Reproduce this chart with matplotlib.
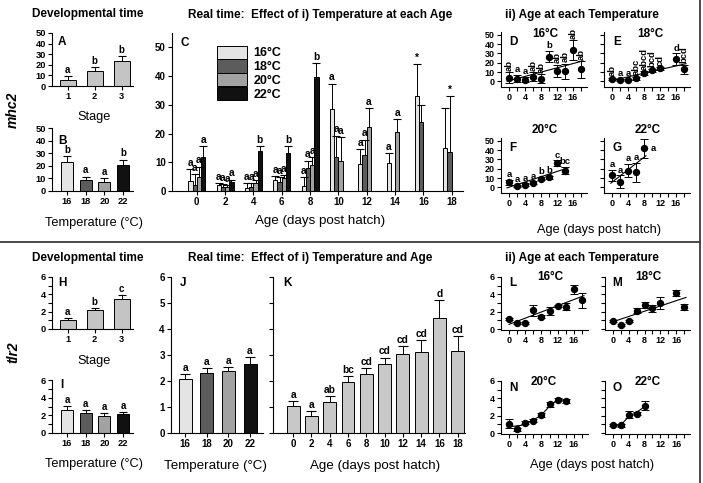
import numpy as np
import matplotlib
matplotlib.use('Agg')
import matplotlib.pyplot as plt
from matplotlib.lines import Line2D
from matplotlib.patches import Patch

plt.rcParams['font.family'] = ['Liberation Sans', 'DejaVu Sans']
plt.rcParams['font.weight'] = 'bold'

nan = np.nan
# ---------------- data ----------------
stage_x = [1, 2, 3]
temp_labels = ['16', '18', '20', '22']
temp_names = ['16°C', '18°C', '20°C', '22°C']
ages = [0, 2, 4, 6, 8, 10, 12, 14, 16, 18]

# mhc2
A_mean = [6, 14.5, 23.5]
A_err = [3, 3, 4.5]
A_let = ['a', 'b', 'b']
B_mean = [23, 8.5, 7.5, 21]
B_err = [4.5, 3, 3, 4]
B_let = ['b', 'a', 'a', 'b']

C16 = [3.6, 2.1, 1.2, 4.0, 1.9, 28.4, 9.3, 9.7, 33.0, 15.0]
C16_err = [3.9, 0.8, 1.5, 1.3, 3.0, 9.0, 5.3, 3.6, 11.3, 13.8]
C16_let = ['a', 'a', 'a', 'a', 'a', 'a', 'a', 'a', '*', '']
C18 = [2.0, 1.5, 1.4, 3.1, 7.9, 11.9, 12.6, nan, 24.1, 13.7]
C18_err = [3.8, 0.9, 1.5, 1.6, 2.7, 7.4, 5.3, nan, 5.8, 19.5]
C18_let = ['a', 'a', 'a', 'a', 'a', 'a', 'a', '', '', '*']
C20 = [4.7, 1.4, 2.9, 4.5, 9.2, 10.4, 22.3, 20.6, nan, nan]
C20_err = [3.8, 0.8, 1.0, 1.0, 2.6, 8.5, 6.7, 4.5, nan, nan]
C20_let = ['a', 'a', 'a', 'a', 'a', 'a', 'a', 'a', '', '']
C22 = [12.0, 3.2, 13.9, 13.4, 39.7, nan, nan, nan, nan, nan]
C22_err = [3.5, 0.8, 1.6, 2.3, 4.8, nan, nan, nan, nan, nan]
C22_let = ['a', 'a', 'b', 'b', 'b', '', '', '', '', '']

D_x = [0, 2, 4, 6, 8, 10, 12, 14, 16, 18]
D_y = [4, 3, 2, 5, 3, 26.5, 11.5, 11, 33.5, 13]
D_err = [6, 4, 3, 5, 5, 6, 6.5, 8, 11, 9]
D_let = ['ab', 'a', 'a', 'ab', 'ab', 'b', 'ab', 'ab', 'ab', 'ab']
D_line_x = [-0.5, 18.5]
D_line_y = [0.2, 22]

E_x = [0, 2, 4, 6, 8, 10, 12, 16, 18]
E_y = [2.5, 1.5, 2, 3.5, 9, 12, 14, 24, 13]
E_err = [1.5, 1, 1, 1.5, 2, 1.5, 1.5, 6, 5]
E_let = ['ab', 'a', 'a', 'abc', 'abcd', 'bcd', 'cd', 'd', 'bcd']
E_line_x = [-0.5, 18.5]
E_line_y = [0.5, 19]

F_x = [0, 2, 4, 6, 8, 10, 12, 14]
F_y = [5.5, 1.5, 3, 5, 9.5, 11, 26, 18]
F_err = [2.5, 1.5, 1.5, 1.5, 1.5, 1.5, 3, 4]
F_let = ['a', 'a', 'a', 'a', 'b', 'b', 'c', 'bc']
F_line_x = [-0.5, 14.8]
F_line_y = [-0.5, 21]

G_x = [0, 2, 4, 6, 8]
G_y = [13, 6, 18, 16, 42]
G_err = [6, 7, 7, 10, 10]
G_let = ['a', 'a', 'a', 'a', 'a']
G_line_x = [-0.3, 8.5]
G_line_y = [4.5, 34]

# tlr2
H_mean = [1.05, 2.15, 3.5]
H_err = [0.2, 0.25, 0.4]
H_let = ['a', 'b', 'c']
I_mean = [2.65, 2.25, 1.95, 2.1]
I_err = [0.45, 0.3, 0.3, 0.3]
I_let = ['a', 'a', 'a', 'a']
J_mean = [2.07, 2.32, 2.37, 2.65]
J_err = [0.2, 0.18, 0.18, 0.27]
J_let = ['a', 'a', 'a', 'a']
K_mean = [1.03, 0.64, 1.18, 1.96, 2.28, 2.64, 3.04, 3.12, 4.41, 3.15]
K_err = [0.2, 0.21, 0.23, 0.22, 0.23, 0.26, 0.29, 0.44, 0.72, 0.59]
K_let = ['a', 'a', 'ab', 'bc', 'cd', 'cd', 'cd', 'cd', 'd', 'cd']

L_x = [0, 2, 4, 6, 8, 10, 12, 14, 16, 18]
L_y = [1.15, 0.7, 0.7, 2.15, 1.45, 2.1, 2.65, 2.6, 4.6, 3.3]
L_err = [0.15, 0.1, 0.15, 0.6, 0.2, 0.5, 0.15, 0.4, 0.5, 0.9]
L_line_x = [0, 18.5]
L_line_y = [0.55, 3.85]

M_x = [0, 2, 4, 6, 8, 10, 12, 16, 18]
M_y = [0.95, 0.5, 0.95, 2.1, 2.75, 2.4, 3.05, 4.15, 2.55]
M_err = [0.15, 0.1, 0.15, 0.3, 0.35, 0.4, 0.7, 0.35, 0.4]
M_line_x = [0, 18.5]
M_line_y = [0.85, 3.65]

N_x = [0, 2, 4, 6, 8, 10, 12, 14]
N_y = [1.1, 0.45, 1.2, 1.45, 2.05, 3.3, 3.85, 3.7]
N_err = [0.5, 0.15, 0.2, 0.2, 0.25, 0.3, 0.2, 0.2]
N_line_x = [-0.5, 3, 6, 8, 10, 12, 14.5]
N_line_y = [0.7, 0.9, 1.5, 2.1, 3.1, 3.8, 3.8]

O_x = [0, 2, 4, 6, 8]
O_y = [0.9, 0.9, 2.1, 2.25, 3.15]
O_err = [0.1, 0.15, 0.4, 0.2, 0.5]
O_line_x = [-0.5, 2, 4, 6, 8.5]
O_line_y = [0.85, 0.95, 1.9, 2.4, 3.2]

temp_colors = ['#e4e4e4', '#5c5c5c', '#a2a2a2', '#111111']
stage_color = '#c4c4c4'
age_color = '#c8c8c8'

# ---------------- figure ----------------
W, H = 703, 483
fig = plt.figure(figsize=(W / 100, H / 100), dpi=100)
fig.patch.set_facecolor('white')


def rect(x0, y0, x1, y1):
    return [x0 / W, 1 - y1 / H, (x1 - x0) / W, (y1 - y0) / H]


def ftext(x, y, s, **kw):
    kw.setdefault('ha', 'center')
    kw.setdefault('va', 'center')
    fig.text(x / W, 1 - y / H, s, **kw)


def style(ax, ls=6.7):
    for s in ['top', 'right']:
        ax.spines[s].set_visible(False)
    for s in ['left', 'bottom']:
        ax.spines[s].set_linewidth(0.8)
    ax.tick_params(which='both', direction='out', length=3, width=0.8,
                   labelsize=ls, pad=1.5)
    ax.set_facecolor('none')


def bars(ax, x, vals, errs, colors, letters, width, capw, fs=7):
    x = np.asarray(x, float)
    vals = np.asarray(vals, float)
    errs = np.asarray(errs, float)
    m = ~np.isnan(vals)
    cols = np.array(colors, dtype=object)[m] if not isinstance(colors, str) else colors
    ax.bar(x[m], vals[m], width, color=cols, edgecolor='black', linewidth=0.7, zorder=2)
    ax.errorbar(x[m], vals[m], yerr=[np.zeros(m.sum()), errs[m]], fmt='none',
                ecolor='black', elinewidth=0.7, capsize=0, zorder=3)
    ax.plot(x[m], (vals + errs)[m], ls='none', marker='_', ms=capw,
            mec='black', mew=0.8, zorder=3)
    for xi, top, l in zip(x[m], (vals + errs)[m], np.array(letters)[m]):
        if l:
            ax.annotate(l, (xi, top), xytext=(0, 0.8), textcoords='offset points',
                        ha='center', va='bottom', fontsize=fs, fontweight='bold')


def scat(ax, x, y, err, lx, ly, letters=None, rotate=False, right_last=False, fs=6.8):
    ax.plot(lx, ly, color='black', lw=0.8, zorder=2)
    ax.errorbar(x, y, yerr=err, fmt='o', color='black', ms=4.3, elinewidth=0.7,
                capsize=2.8, capthick=0.7, zorder=3)
    if letters is None:
        return
    n = len(x)
    for i, (xi, yi, ei, l) in enumerate(zip(x, y, err, letters)):
        if right_last and i == n - 1:
            ax.annotate(l, (xi, yi), xytext=(5, 0), textcoords='offset points',
                        ha='left', va='center', fontsize=fs, fontweight='bold')
        elif rotate and len(l) > 1:
            ax.annotate(l, (xi, yi + ei), xytext=(0, 1), textcoords='offset points',
                        ha='center', va='bottom', rotation=90, fontsize=fs,
                        fontweight='bold')
        else:
            ax.annotate(l, (xi, yi + ei), xytext=(0, 0.5), textcoords='offset points',
                        ha='center', va='bottom', fontsize=fs, fontweight='bold')


# ---- Panel A ----
axA = fig.add_axes(rect(52, 33, 133, 86))
style(axA)
bars(axA, stage_x, A_mean, A_err, stage_color, A_let, 0.6, 6)
axA.set_xlim(0.42, 3.42); axA.set_ylim(0, 50)
axA.set_xticks(stage_x); axA.set_yticks(range(0, 51, 10))

# ---- Panel B ----
axB = fig.add_axes(rect(52, 128, 133, 191))
style(axB)
bars(axB, range(4), B_mean, B_err, temp_colors, B_let, 0.65, 6)
axB.set_xlim(-0.8, 3.53); axB.set_ylim(0, 50)
axB.set_xticks(range(4)); axB.set_xticklabels(temp_labels)
axB.set_yticks(range(0, 51, 10))

# ---- Panel C ----
axC = fig.add_axes(rect(172, 33, 463, 191))
style(axC, 7)
bw = 0.3
series = [(C16, C16_err, C16_let), (C18, C18_err, C18_let),
          (C20, C20_err, C20_let), (C22, C22_err, C22_let)]
for i, (v, e, l) in enumerate(series):
    xs = np.array(ages, float) + (i - 1.5) * bw
    bars(axC, xs, v, e, temp_colors[i], l, bw, 5.5, fs=7.3)
axC.set_xlim(-1.75, 18.8); axC.set_ylim(0, 55)
axC.set_xticks(ages); axC.set_yticks(range(0, 51, 10))
handles = [Patch(facecolor=c, edgecolor='black', linewidth=0.7) for c in temp_colors]
axC.legend(handles, temp_names, loc='upper left', bbox_to_anchor=(0.155, 0.92),
           frameon=False, prop={'size': 9, 'weight': 'bold'}, handlelength=2.4,
           handleheight=1.25, labelspacing=0.0, handletextpad=0.5, borderpad=0,
           borderaxespad=0)


# ---- Panels D-G ----
def small_mhc(r, labels):
    ax = fig.add_axes(rect(*r))
    style(ax, 6.5)
    ax.set_xlim(-2, 19.5); ax.set_ylim(-6, 53)
    ax.set_xticks([0, 4, 8, 12, 16]); ax.set_xticks([2, 6, 10, 14, 18], minor=True)
    ax.set_yticks(range(0, 51, 10))
    ax.tick_params(axis='y', labelleft=labels)
    return ax


axD = small_mhc((501, 32, 587, 87), True)
scat(axD, D_x, D_y, D_err, D_line_x, D_line_y, D_let, rotate=True)
axE = small_mhc((604, 32, 690, 87), False)
scat(axE, E_x, E_y, E_err, E_line_x, E_line_y, E_let, rotate=True)
axF = small_mhc((501, 138, 587, 193), True)
scat(axF, F_x, F_y, F_err, F_line_x, F_line_y, F_let, rotate=False)
axG = small_mhc((604, 138, 690, 193), False)
scat(axG, G_x, G_y, G_err, G_line_x, G_line_y, G_let, right_last=True)

# ---- Panel H ----
axH = fig.add_axes(rect(52, 277, 133, 329))
style(axH)
bars(axH, stage_x, H_mean, H_err, stage_color, H_let, 0.6, 6)
axH.set_xlim(0.42, 3.42); axH.set_ylim(0, 6)
axH.set_xticks(stage_x); axH.set_yticks([0, 2, 4, 6]); axH.set_yticks([1, 3, 5], minor=True)

# ---- Panel I ----
axI = fig.add_axes(rect(52, 380, 133, 433))
style(axI)
bars(axI, range(4), I_mean, I_err, temp_colors, I_let, 0.65, 6)
axI.set_xlim(-0.8, 3.53); axI.set_ylim(0, 6)
axI.set_xticks(range(4)); axI.set_xticklabels(temp_labels)
axI.set_yticks([0, 2, 4, 6]); axI.set_yticks([1, 3, 5], minor=True)

# ---- Panel J ----
axJ = fig.add_axes(rect(171, 277, 263, 433))
style(axJ, 7)
bars(axJ, range(4), J_mean, J_err, temp_colors, J_let, 0.6, 7, fs=7.3)
axJ.set_xlim(-0.65, 3.6); axJ.set_ylim(0, 6)
axJ.set_xticks(range(4)); axJ.set_xticklabels(temp_labels)
axJ.set_yticks(range(0, 7))

# ---- Panel K ----
axK = fig.add_axes(rect(273, 277, 465, 433))
style(axK, 7)
bars(axK, ages, K_mean, K_err, age_color, K_let, 1.4, 7, fs=7.3)
axK.set_xlim(-2.2, 18.8); axK.set_ylim(0, 6)
axK.set_xticks(ages); axK.set_yticks(range(0, 7))
axK.tick_params(axis='y', labelleft=False)


# ---- Panels L-O ----
def small_tlr(r, labels):
    ax = fig.add_axes(rect(*r))
    style(ax, 6.5)
    ax.set_xlim(-2, 19.5); ax.set_ylim(-0.1, 6)
    ax.set_xticks([0, 4, 8, 12, 16]); ax.set_xticks([2, 6, 10, 14, 18], minor=True)
    ax.set_yticks([0, 2, 4, 6]); ax.set_yticks([1, 3, 5], minor=True)
    ax.tick_params(axis='y', labelleft=labels)
    return ax


axL = small_tlr((501, 277, 588, 330), True)
scat(axL, L_x, L_y, L_err, L_line_x, L_line_y)
axM = small_tlr((605, 277, 690, 330), False)
scat(axM, M_x, M_y, M_err, M_line_x, M_line_y)
axN = small_tlr((501, 381, 588, 434), True)
scat(axN, N_x, N_y, N_err, N_line_x, N_line_y)
axO = small_tlr((605, 381, 690, 434), False)
scat(axO, O_x, O_y, O_err, O_line_x, O_line_y)

# ---------------- texts ----------------
tfs = 8.5
ftext(88, 14, 'Developmental time', fontsize=tfs, fontweight='bold')
ftext(320, 15, 'Real time:  Effect of i) Temperature at each Age', fontsize=tfs, fontweight='bold')
ftext(582, 15, 'ii) Age at each Temperature', fontsize=tfs, fontweight='bold')
ftext(88, 258, 'Developmental time', fontsize=tfs, fontweight='bold')
ftext(310, 258, 'Real time:  Effect of i) Temperature and Age', fontsize=tfs, fontweight='bold')
ftext(582, 258, 'ii) Age at each Temperature', fontsize=tfs, fontweight='bold')

lfs = 9.2
ftext(94, 117, 'Stage', fontsize=lfs, fontweight='normal')
ftext(94, 223, 'Temperature (°C)', fontsize=lfs, fontweight='normal')
ftext(320, 221, 'Age (days post hatch)', fontsize=lfs + 0.4, fontweight='normal')
ftext(599, 230, 'Age (days post hatch)', fontsize=lfs, fontweight='normal')
ftext(94, 361, 'Stage', fontsize=lfs, fontweight='normal')
ftext(94, 464, 'Temperature (°C)', fontsize=lfs, fontweight='normal')
ftext(216, 466, 'Temperature (°C)', fontsize=lfs + 0.4, fontweight='normal')
ftext(375, 466, 'Age (days post hatch)', fontsize=lfs + 0.4, fontweight='normal')
ftext(592, 465, 'Age (days post hatch)', fontsize=lfs, fontweight='normal')

ftext(13, 110, 'mhc2', fontsize=10, fontweight='bold', style='italic', rotation=90)
ftext(13, 352, 'tlr2', fontsize=10, fontweight='bold', style='italic', rotation=90)

pfs = 8.5
for s, x, y in [('A', 62, 42), ('B', 62, 141), ('C', 185, 43), ('D', 513, 42),
                ('E', 617, 42), ('F', 513, 148), ('G', 617, 148),
                ('H', 62, 283), ('I', 62, 385), ('J', 183, 283), ('K', 288, 283),
                ('L', 513, 283), ('M', 617, 283), ('N', 513, 388), ('O', 617, 388)]:
    ftext(x, y, s, fontsize=pfs, fontweight='bold')

for s, x, y in [('16°C', 545, 34), ('18°C', 650, 34), ('20°C', 545, 130), ('22°C', 648, 130),
                ('16°C', 550, 277), ('18°C', 648, 277), ('20°C', 544, 382), ('22°C', 648, 382)]:
    ftext(x, y, s, fontsize=8.5, fontweight='bold')

# frame lines
fig.add_artist(Line2D([0, 700 / W], [1 - 242 / H] * 2, color='#3a3a3a', lw=1.3,
                      transform=fig.transFigure))
fig.add_artist(Line2D([700 / W] * 2, [0, 1], color='#3a3a3a', lw=1.3,
                      transform=fig.transFigure))

fig.savefig('out.png', dpi=100, facecolor='white')
